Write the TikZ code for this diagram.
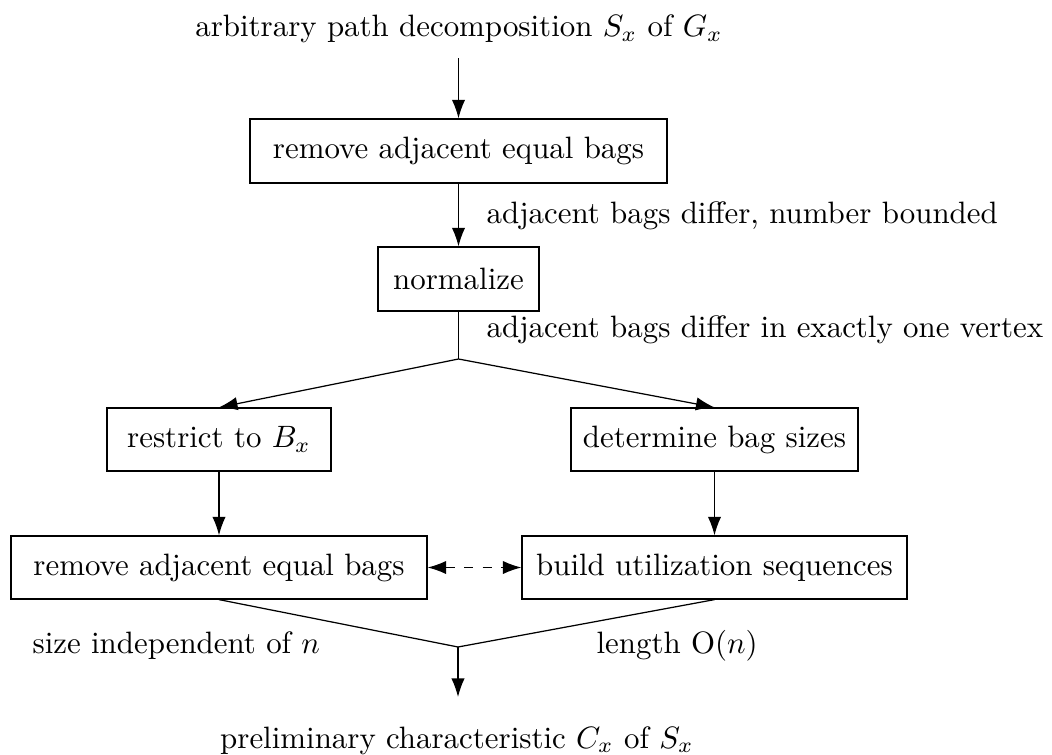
\documentclass[tikz,border=0pt]{standalone}
\usetikzlibrary{arrows.meta}
\newcommand\pxu{0.3236pt}
\begin{document}
\begin{tikzpicture}[x=0.3236pt,y=-0.3236pt,
  box/.style={draw,line width=0.4pt,inner sep=0pt,anchor=center},
  lbl/.style={inner sep=0pt,anchor=base west},
  ttl/.style={inner sep=0pt,anchor=base},
  arr/.style={-{Latex[length=6pt,width=4.3pt]},line width=0.4pt},
  ln/.style={line width=0.4pt}]
\useasboundingbox (0,0) rectangle (1052,755);
% texts
\node[ttl] (top) at (459,37) {arbitrary path decomposition $S_x$ of $G_x$};
\node[ttl] (bot) at (457,748) {preliminary characteristic $C_x$ of $S_x$};
% boxes
\node[box,minimum width=417*\pxu,minimum height=64*\pxu] (b1) at (458.5,151) {remove adjacent equal bags};
\node[box,minimum width=161*\pxu,minimum height=64*\pxu] (norm) at (458.5,279) {normalize};
\node[box,minimum width=224*\pxu,minimum height=63*\pxu] (res) at (219,439.5) {restrict to $B_x$};
\node[box,minimum width=287*\pxu,minimum height=63*\pxu] (det) at (714.5,439.5) {determine bag sizes};
\node[box,minimum width=416*\pxu,minimum height=63*\pxu] (rem) at (219,567.5) {remove adjacent equal bags};
\node[box,minimum width=385*\pxu,minimum height=63*\pxu] (bld) at (714.5,567.5) {build utilization sequences};
% labels
\node[lbl] (l1) at (486,223) {adjacent bags differ, number bounded};
\node[lbl] (l2) at (486,337) {adjacent bags differ in exactly one vertex};
\node[lbl] (l3) at (32,653) {size independent of $n$};
\node[lbl] (l4) at (596,653) {length $\mathrm{O}(n)$};
% coordinates
\coordinate (in) at (458.5,58);
\coordinate (split) at (458.5,359);
\coordinate (merge) at (458,647);
\coordinate (out) at (458,697);
% connectors
\draw[arr] (in) -- (b1.north);
\draw[arr] (b1.south) -- (norm.north);
\draw[ln] (norm.south) -- (split);
\draw[arr] (split) -- (res.north);
\draw[arr] (split) -- (det.north);
\draw[arr] (res.south) -- (rem.north);
\draw[arr] (det.south) -- (bld.north);
\draw[{Latex[length=6pt,width=4.3pt]}-{Latex[length=6pt,width=4.3pt]},line width=0.4pt,dashed] (rem.east) -- (bld.west);
\draw[ln] (rem.south) -- (merge);
\draw[ln] (bld.south) -- (merge);
\draw[arr] (merge) -- (out);
\end{tikzpicture}
\end{document}
